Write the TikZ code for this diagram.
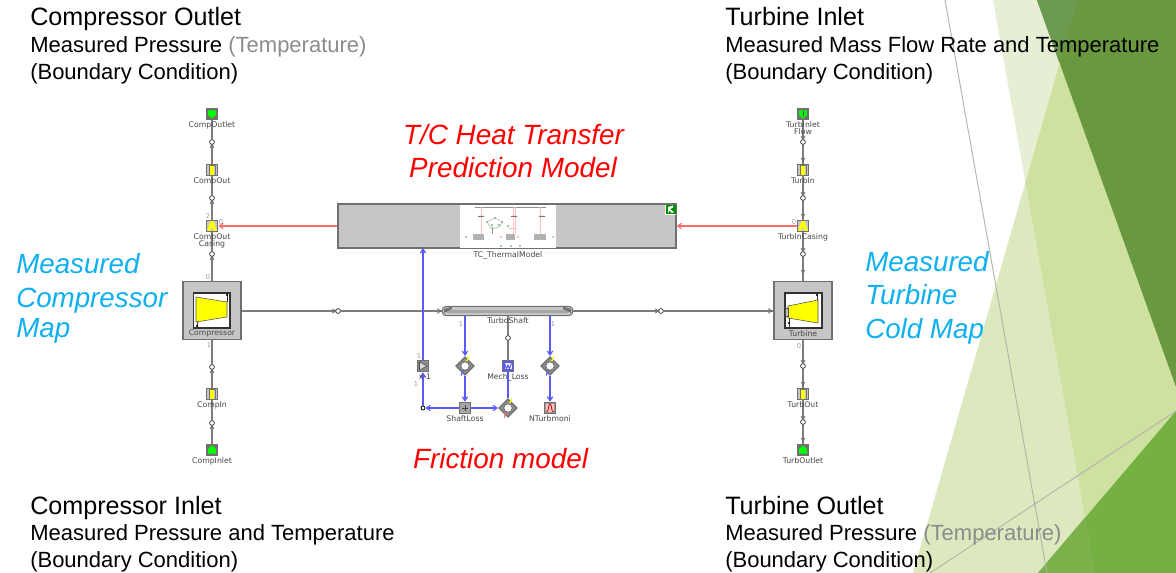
\documentclass[tikz,border=0pt]{standalone}
\usepackage{fontspec}
\setmainfont{Liberation Sans}
\newfontfamily\smallfont{DejaVu Sans}
\usetikzlibrary{arrows.meta,shapes.geometric,calc}
\definecolor{paleA}{HTML}{E6EFD3}
\definecolor{paleB}{HTML}{DCE9BE}
\definecolor{paleAB}{HTML}{CFE1A0}
\definecolor{darkG}{HTML}{6A983F}
\definecolor{darkGB}{HTML}{6B9A50}
\definecolor{brightG}{HTML}{75B043}
\definecolor{brightGA}{HTML}{7CB14C}
\definecolor{facetline}{HTML}{B4B4AC}
\definecolor{cyanT}{HTML}{0FB0F0}
\definecolor{boxgray}{HTML}{C6C6C6}
\definecolor{flowgray}{HTML}{7C7C7C}
\definecolor{sigblue}{HTML}{5A5AF8}
\definecolor{sigred}{HTML}{FF6A6A}
\definecolor{edgeg}{HTML}{707070}
\definecolor{tcyellow}{HTML}{FFFF00}
\tikzset{
  x=0.75pt,y=-0.75pt,
  head/.style={anchor=base west,inner sep=0pt,font=\fontsize{18.85}{20}\selectfont,text=black},
  sub/.style={anchor=base west,inner sep=0pt,font=\fontsize{16.5}{18}\selectfont,text=black},
  bluelab/.style={anchor=base west,inner sep=0pt,font=\fontsize{20.8}{22}\selectfont\itshape,text=cyanT},
  redlab/.style={anchor=base,inner sep=0pt,font=\fontsize{20.9}{22}\selectfont\itshape,text=red},
  tiny/.style={inner sep=0pt,font=\smallfont\fontsize{5.8}{6}\selectfont,text=black!72},
  numlab/.style={inner sep=0pt,font=\smallfont\fontsize{5}{5}\selectfont,text=black!40},
  sqbox/.style={draw=edgeg,line width=0.9pt,fill=boxgray,minimum width=8.5pt,minimum height=8.5pt,inner sep=0pt},
  bigbox/.style={draw=edgeg,line width=0.9pt,fill=boxgray,minimum width=43.5pt,minimum height=43.5pt,inner sep=0pt},
  endbox/.style={draw=edgeg,line width=0.9pt,fill=edgeg,minimum width=8pt,minimum height=8pt,inner sep=0pt},
  conn/.style={circle,draw=black!75,line width=0.6pt,fill=white,minimum size=3.6pt,inner sep=0pt},
  dmd/.style={diamond,aspect=1,draw=edgeg,line width=0.9pt,fill=black!45,minimum size=14pt,inner sep=0pt},
  flow/.style={draw=flowgray,line width=1.1pt},
  sigb/.style={draw=sigblue,line width=0.9pt},
  sigr/.style={draw=sigred,line width=0.8pt},
  tipb/.style={-{Straight Barb[length=3pt,width=4pt]}},
  minil/.style={draw=red!25,line width=0.35pt},
}
\begin{document}
\begin{tikzpicture}
\useasboundingbox (0,0) rectangle (1176,573);
\fill[white] (0,0) rectangle (1176,573);
% facets
\fill[paleA] (993,0) -- (1078,0) -- (1176,300) -- (1176,411) -- (1095,573) -- cycle;
\fill[paleB] (1078,0) -- (1176,300) -- (1176,411) -- (1038,573) -- (913,573) -- cycle;
\begin{scope}
  \clip (993,0) -- (1078,0) -- (1176,300) -- (1176,411) -- (1095,573) -- cycle;
  \fill[paleAB] (1078,0) -- (1176,300) -- (1176,411) -- (1038,573) -- (913,573) -- cycle;
\end{scope}
\fill[darkG] (1037,0) -- (1176,0) -- (1176,387) -- cycle;
\fill[darkGB] (1037,0) -- (1078,0) -- (1059,62) -- cycle;
\fill[brightG] (1038,573) -- (1176,411) -- (1176,573) -- cycle;
\fill[brightGA] (1085.5,517) -- (1095,573) -- (1038,573) -- cycle;
\draw[facetline,line width=0.7pt] (945,0) -- (1047,573);
\draw[facetline,line width=0.7pt] (930,573) -- (1176,411);

% headings
\node[head] (t1) at (30,26) {Compressor Outlet};
\node[sub] (t2) at (30,53) {Measured Pressure \textcolor{black!45}{(Temperature)}};
\node[sub] (t3) at (30,80) {(Boundary Condition)};
\node[head] (t4) at (30,514) {Compressor Inlet};
\node[sub] (t5) at (30,540) {Measured Pressure and Temperature};
\node[sub] (t6) at (30,567) {(Boundary Condition)};
\node[head] (t7) at (725,26) {Turbine Inlet};
\node[sub] (t8) at (725,53) {Measured Mass Flow Rate and Temperature};
\node[sub] (t9) at (725,80) {(Boundary Condition)};
\node[head] (t10) at (725,514) {Turbine Outlet};
\node[sub] (t11) at (725,540) {Measured Pressure \textcolor{black!45}{(Temperature)}};
\node[sub] (t12) at (725,567) {(Boundary Condition)};

\node[redlab] (r1) at (513.5,145) {T/C Heat Transfer};
\node[redlab] (r2) at (513,178) {Prediction Model};
\node[redlab] (r3) at (500.5,468) {Friction model};
\node[bluelab] (b1) at (16,273) {Measured};
\node[bluelab] (b2) at (16,307) {Compressor};
\node[bluelab] (b3) at (16,337) {Map};
\node[bluelab] (b4) at (865,272) {Measured};
\node[bluelab] (b5) at (865,305) {Turbine};
\node[bluelab] (b6) at (865,338) {Cold Map};

% main blocks
\node[draw=edgeg,line width=0.9pt,fill=boxgray,minimum width=253.5pt,minimum height=33pt,inner sep=0pt] (tc) at (507,226) {};
\node[fill=white,minimum width=72pt,minimum height=32pt,inner sep=0pt] (thumb) at (508,226.5) {};
\node[bigbox] (comp) at (212,310.5) {};
\node[bigbox] (turb) at (803,310.5) {};
\node[draw=edgeg,line width=0.8pt,fill=boxgray,rounded corners=3pt,minimum width=98pt,minimum height=7pt,inner sep=0pt] (shaft) at (507.5,311) {};

% left column
\node[endbox] (co) at (212,114) {};
\node[conn] (c1) at (212,142) {};
\node[sqbox] (cout) at (212,170) {};
\node[conn] (c2) at (212,198) {};
\node[sqbox] (ccase) at (212,226) {};
\node[conn] (c3) at (212,254) {};
\node[conn] (c4) at (212,367) {};
\node[sqbox] (cin) at (212,394) {};
\node[conn] (c5) at (212,423) {};
\node[endbox] (cinl) at (212,450) {};
% right column
\node[endbox] (ti) at (803,114) {};
\node[conn] (d1) at (803,142) {};
\node[sqbox] (tin) at (803,170) {};
\node[conn] (d2) at (803,198) {};
\node[sqbox] (tcase) at (803,226) {};
\node[conn] (d3) at (803,254) {};
\node[conn] (d4) at (803,366) {};
\node[sqbox] (tout) at (803,394) {};
\node[conn] (d5) at (803,422) {};
\node[endbox] (toutl) at (803,450) {};
% horizontal joints
\node[conn] (h1) at (338,311) {};
\node[conn] (h2) at (661,311) {};
% friction
\node[conn] (m0) at (508,338) {};
\node[sqbox,fill=black!45] (gain) at (423,366) {};
\node[dmd] (dm1) at (465,366) {};
\node[sqbox,fill=sigblue] (mech) at (508,366) {};
\node[dmd] (dm2) at (550,366) {};
\node[conn,draw=black,minimum size=3pt] (jn) at (423,408) {};
\node[sqbox,fill=black!35] (sloss) at (465,408) {};
\node[dmd] (dm3) at (508,408) {};
\node[sqbox,fill=black!40] (nt) at (550,408) {};
\coordinate (tcb) at (423,248);
\coordinate (s1) at (465,316);
\coordinate (s2) at (508,316);
\coordinate (s3) at (550,316);

% connectors
\draw[flow] (co) -- (c1);
\draw[flow] (c1) -- (cout);
\draw[flow] (cout) -- (c2);
\draw[flow] (c2) -- (ccase);
\draw[flow] (ccase) -- (c3);
\draw[flow] (c3) -- (comp.north);
\draw[flow] (comp.south) -- (c4);
\draw[flow] (c4) -- (cin);
\draw[flow] (cin) -- (c5);
\draw[flow] (c5) -- (cinl);
\draw[flow] (ti) -- (d1);
\draw[flow] (d1) -- (tin);
\draw[flow] (tin) -- (d2);
\draw[flow] (d2) -- (tcase);
\draw[flow] (tcase) -- (d3);
\draw[flow] (d3) -- (turb.north);
\draw[flow] (turb.south) -- (d4);
\draw[flow] (d4) -- (tout);
\draw[flow] (tout) -- (d5);
\draw[flow] (d5) -- (toutl);
\draw[flow] (comp.east |- h1) -- (h1);
\draw[flow] (h1) -- (shaft.west);
\draw[flow] (shaft.east) -- (h2);
\draw[flow] (h2) -- (turb.west |- h2);
\draw[flow] (s2) -- (m0);
\draw[flow] (m0) -- (mech);
\draw[sigr,tipb] (tc.west) -- (ccase.east);
\draw[sigr,tipb] (tcase.west) -- (tc.east);
\draw[sigb,tipb] (jn) -- (gain);
\draw[sigb,tipb] (gain) -- (tcb);
\draw[sigb,tipb] (s1) -- (dm1);
\draw[sigb,tipb] (dm1) -- (sloss);
\draw[sigb,tipb] (sloss) -- (jn);
\draw[sigb,tipb] (sloss) -- (dm3);
\draw[sigb] (dm3) -- (mech);
\draw[sigb,tipb] (s3) -- (dm2);
\draw[sigb,tipb] (dm2) -- (nt);

% small flow tips beside the joints
\foreach \n in {c1,c2,c3,c4,c5}{
  \draw[black!60,line width=0.5pt] ($(\n)+(-2,6)$) -- ($(\n)+(0,2)$) -- ($(\n)+(2,6)$);}
\foreach \n in {d1,d2,d3,d4,d5}{
  \draw[black!60,line width=0.5pt] ($(\n)+(-2,-6)$) -- ($(\n)+(0,-2)$) -- ($(\n)+(2,-6)$);
  \draw[black!60,line width=0.5pt] ($(\n)+(-2,16)$) -- ($(\n)+(0,19)$) -- ($(\n)+(2,16)$);}
\foreach \n in {h1,h2}{
  \draw[black!60,line width=0.5pt] ($(\n)+(-6,-2)$) -- ($(\n)+(-2,0)$) -- ($(\n)+(-6,2)$);}
\draw[black!60,line width=0.5pt] (437,308.5) -- (441,311) -- (437,313.5);
\draw[black!60,line width=0.5pt] (768,308.5) -- (772,311) -- (768,313.5);

% end boxes: green faces
\foreach \n in {co,ti}{
  \fill[green] ($(\n)+(-4,-3.5)$) -- ($(\n)+(4,-3.5)$) -- ($(\n)+(4,1)$) -- ($(\n)+(0,4.5)$) -- ($(\n)+(-4,1)$) -- cycle;}
\foreach \n in {cinl,toutl}{
  \fill[green] ($(\n)+(-4,3.5)$) -- ($(\n)+(4,3.5)$) -- ($(\n)+(4,-1)$) -- ($(\n)+(0,-4.5)$) -- ($(\n)+(-4,-1)$) -- cycle;}
\draw[black!70,line width=0.6pt] ($(ti)+(0,-3)$) -- ($(ti)+(0,2)$);
% yellow bars
\foreach \n in {cout,cin,tin,tout}{
  \fill[tcyellow] ($(\n)+(-2,-5)$) rectangle ($(\n)+(2,5)$);
  \draw[black!55,line width=0.4pt] ($(\n)+(-3,-5)$) rectangle ($(\n)+(3,5)$);}
\foreach \n in {ccase,tcase}{
  \fill[tcyellow] ($(\n)+(-5,5)$) -- ($(\n)+(-1.5,-5)$) -- ($(\n)+(1.5,-5)$) -- ($(\n)+(5,5)$) -- cycle;
  \fill[boxgray] ($(\n)+(-1.5,5)$) -- ($(\n)+(0,1)$) -- ($(\n)+(1.5,5)$) -- cycle;}
% compressor and turbine faces
\draw[black!80,fill=white,line width=0.8pt] (193.5,293) rectangle (230,328);
\fill[tcyellow,draw=black!70,line width=0.4pt] (196,297) -- (227,302) -- (227,317) -- (196,322) -- cycle;
\draw[black!80,line width=0.5pt] (227,294) -- (227,302) (197,322) -- (197,327);
\fill[black] (227,295) circle (1.2) (197,326) circle (1.2);
\draw[black!80,fill=white,line width=0.8pt] (785,293) rectangle (822,328);
\fill[tcyellow,draw=black!70,line width=0.4pt] (788,306) -- (818,300) -- (818,323) -- (788,318) -- cycle;
\draw[black!80,line width=0.5pt] (817,294) -- (817,300) (789,318) -- (789,327);
\fill[black] (817,295) circle (1.2) (789,323) circle (1.2);
\draw[black!70,fill=boxgray,line width=0.4pt] (785,308) rectangle (788,316);
% shaft shading
\fill[black!35] (447,309.5) rectangle (568,312.5);
\fill[black!55] (444,309) -- (452,306.5) -- (452,309) -- (444,313) -- cycle;
\fill[black!55] (571,309) -- (563,306.5) -- (563,309) -- (571,313) -- cycle;
% friction faces
\draw[black!70,fill=black!15,line width=0.4pt] (419.5,362) -- (427,366) -- (419.5,370) -- cycle;
\foreach \n/\c in {dm1/sigblue,dm2/sigblue,dm3/sigred}{
  \fill[white] (\n) circle (4.2);
  \fill[tcyellow] ($(\n)+(0,-4.2)$) arc (90:-30:4.2) -- (\n) -- cycle;
  \fill[\c] ($(\n)+(0,4.2)$) arc (270:150:4.2) -- (\n) -- cycle;
  \draw[black!70,line width=0.4pt] (\n) circle (4.2);}
\fill[white] (504.5,363) rectangle (511.5,369);
\draw[sigblue,line width=0.8pt] (504.5,363) -- (506.5,369) -- (508,365) -- (509.5,369) -- (511.5,363);
\draw[black!75,line width=0.5pt] (462,408) -- (468,408) (465,405) -- (465,411);
\fill[red!25] (546,404) rectangle (554,412);
\draw[red!80!black,line width=0.6pt] (546.5,412) .. controls (549,412) and (548,404) .. (550,404) .. controls (552,404) and (551,412) .. (553.5,412);
% icon
\fill[white] (665,205) rectangle (676,215.5);
\fill[green!55!black] (665.5,205.5) -- (675.5,205.5) -- (675.5,214.5) -- (665.5,214.5) -- cycle;
\fill[white] (668,207) -- (673,205.5) -- (673,207.5) -- (670,209) -- (674,212) -- (672,213) -- (669,210.5) -- (668,214) -- cycle;
% thumbnail contents
\draw[black!45,line width=0.7pt] (475,207) -- (546,207);
\draw[minil] (481,207) -- (481,240) (513,207) -- (513,240) (540,207) -- (540,240);
\draw[minil,line width=0.5pt] (515,207) -- (515,233) (508,228) -- (515,228);
\fill[black!30] (473,234) rectangle (484,240);
\fill[black!30] (506,234) rectangle (515,240);
\fill[black!30] (534,234) rectangle (546,240);
\fill[black!55] (478,216) rectangle (484,217) (511,216) rectangle (517,217) (539,216) rectangle (545,217);
\foreach \p in {(487,222),(495,218),(502,222),(492,225),(499,225),(508,226)}{
  \fill[green!55!black!80] \p circle (0.8);}
\draw[black!40,line width=0.3pt] (487,222) -- (495,218) -- (503,222) -- (499,227) -- (492,229) -- cycle;
\draw[black!40,line width=0.3pt] (492,227) -- (492,234);
\fill[cyan!60!black!60] (466,237) circle (1) (553,237) circle (1);
\fill[red!50] (501,237) circle (0.8) (518,237) circle (0.8);
\fill[green!50!black!70] (501,246) circle (0.8) (511,246) circle (0.8) (520,246) circle (0.8);

% tiny labels
\node[tiny] (l1) at (212,125) {CompOutlet};
\node[tiny] (l2) at (212,181) {CompOut};
\node[tiny] (l3) at (212,237) {CompOut};
\node[tiny] (l4) at (212,244) {Casing};
\node[tiny] (l5) at (212,333.5) {Compressor};
\node[tiny] (l6) at (212,405) {CompIn};
\node[tiny] (l7) at (212,461) {CompInlet};
\node[tiny] (l8) at (803,125) {TurbInlet};
\node[tiny] (l9) at (803,132) {Flow};
\node[tiny] (l10) at (803,181) {TurbIn};
\node[tiny] (l11) at (803,237) {TurbInCasing};
\node[tiny] (l12) at (803,333.5) {Turbine};
\node[tiny] (l13) at (803,405) {TurbOut};
\node[tiny] (l14) at (803,461) {TurbOutlet};
\node[tiny] (l15) at (508,255) {TC\_ThermalModel};
\node[tiny] (l16) at (508,321) {TurboShaft};
\node[tiny] (l17) at (508,377) {Mech\_Loss};
\node[tiny] (l18) at (465,419) {ShaftLoss};
\node[tiny] (l19) at (550,419) {NTurbmoni};
\node[tiny] (l20) at (425,377) {x-1};
% port numerals
\node[numlab] (n1) at (208,216) {2};
\node[numlab] (n2) at (221,222) {0};
\node[numlab] (n3) at (208,277) {0};
\node[numlab] (n4) at (209,345) {1};
\node[numlab] (n5) at (794,222) {0};
\node[numlab] (n6) at (799,346) {0};
\node[numlab] (n7) at (461,324) {1};
\node[numlab] (n8) at (553,324) {1};
\node[numlab] (n9) at (419,356) {1};
\node[numlab] (n10) at (416,384) {1};
\end{tikzpicture}
\end{document}
